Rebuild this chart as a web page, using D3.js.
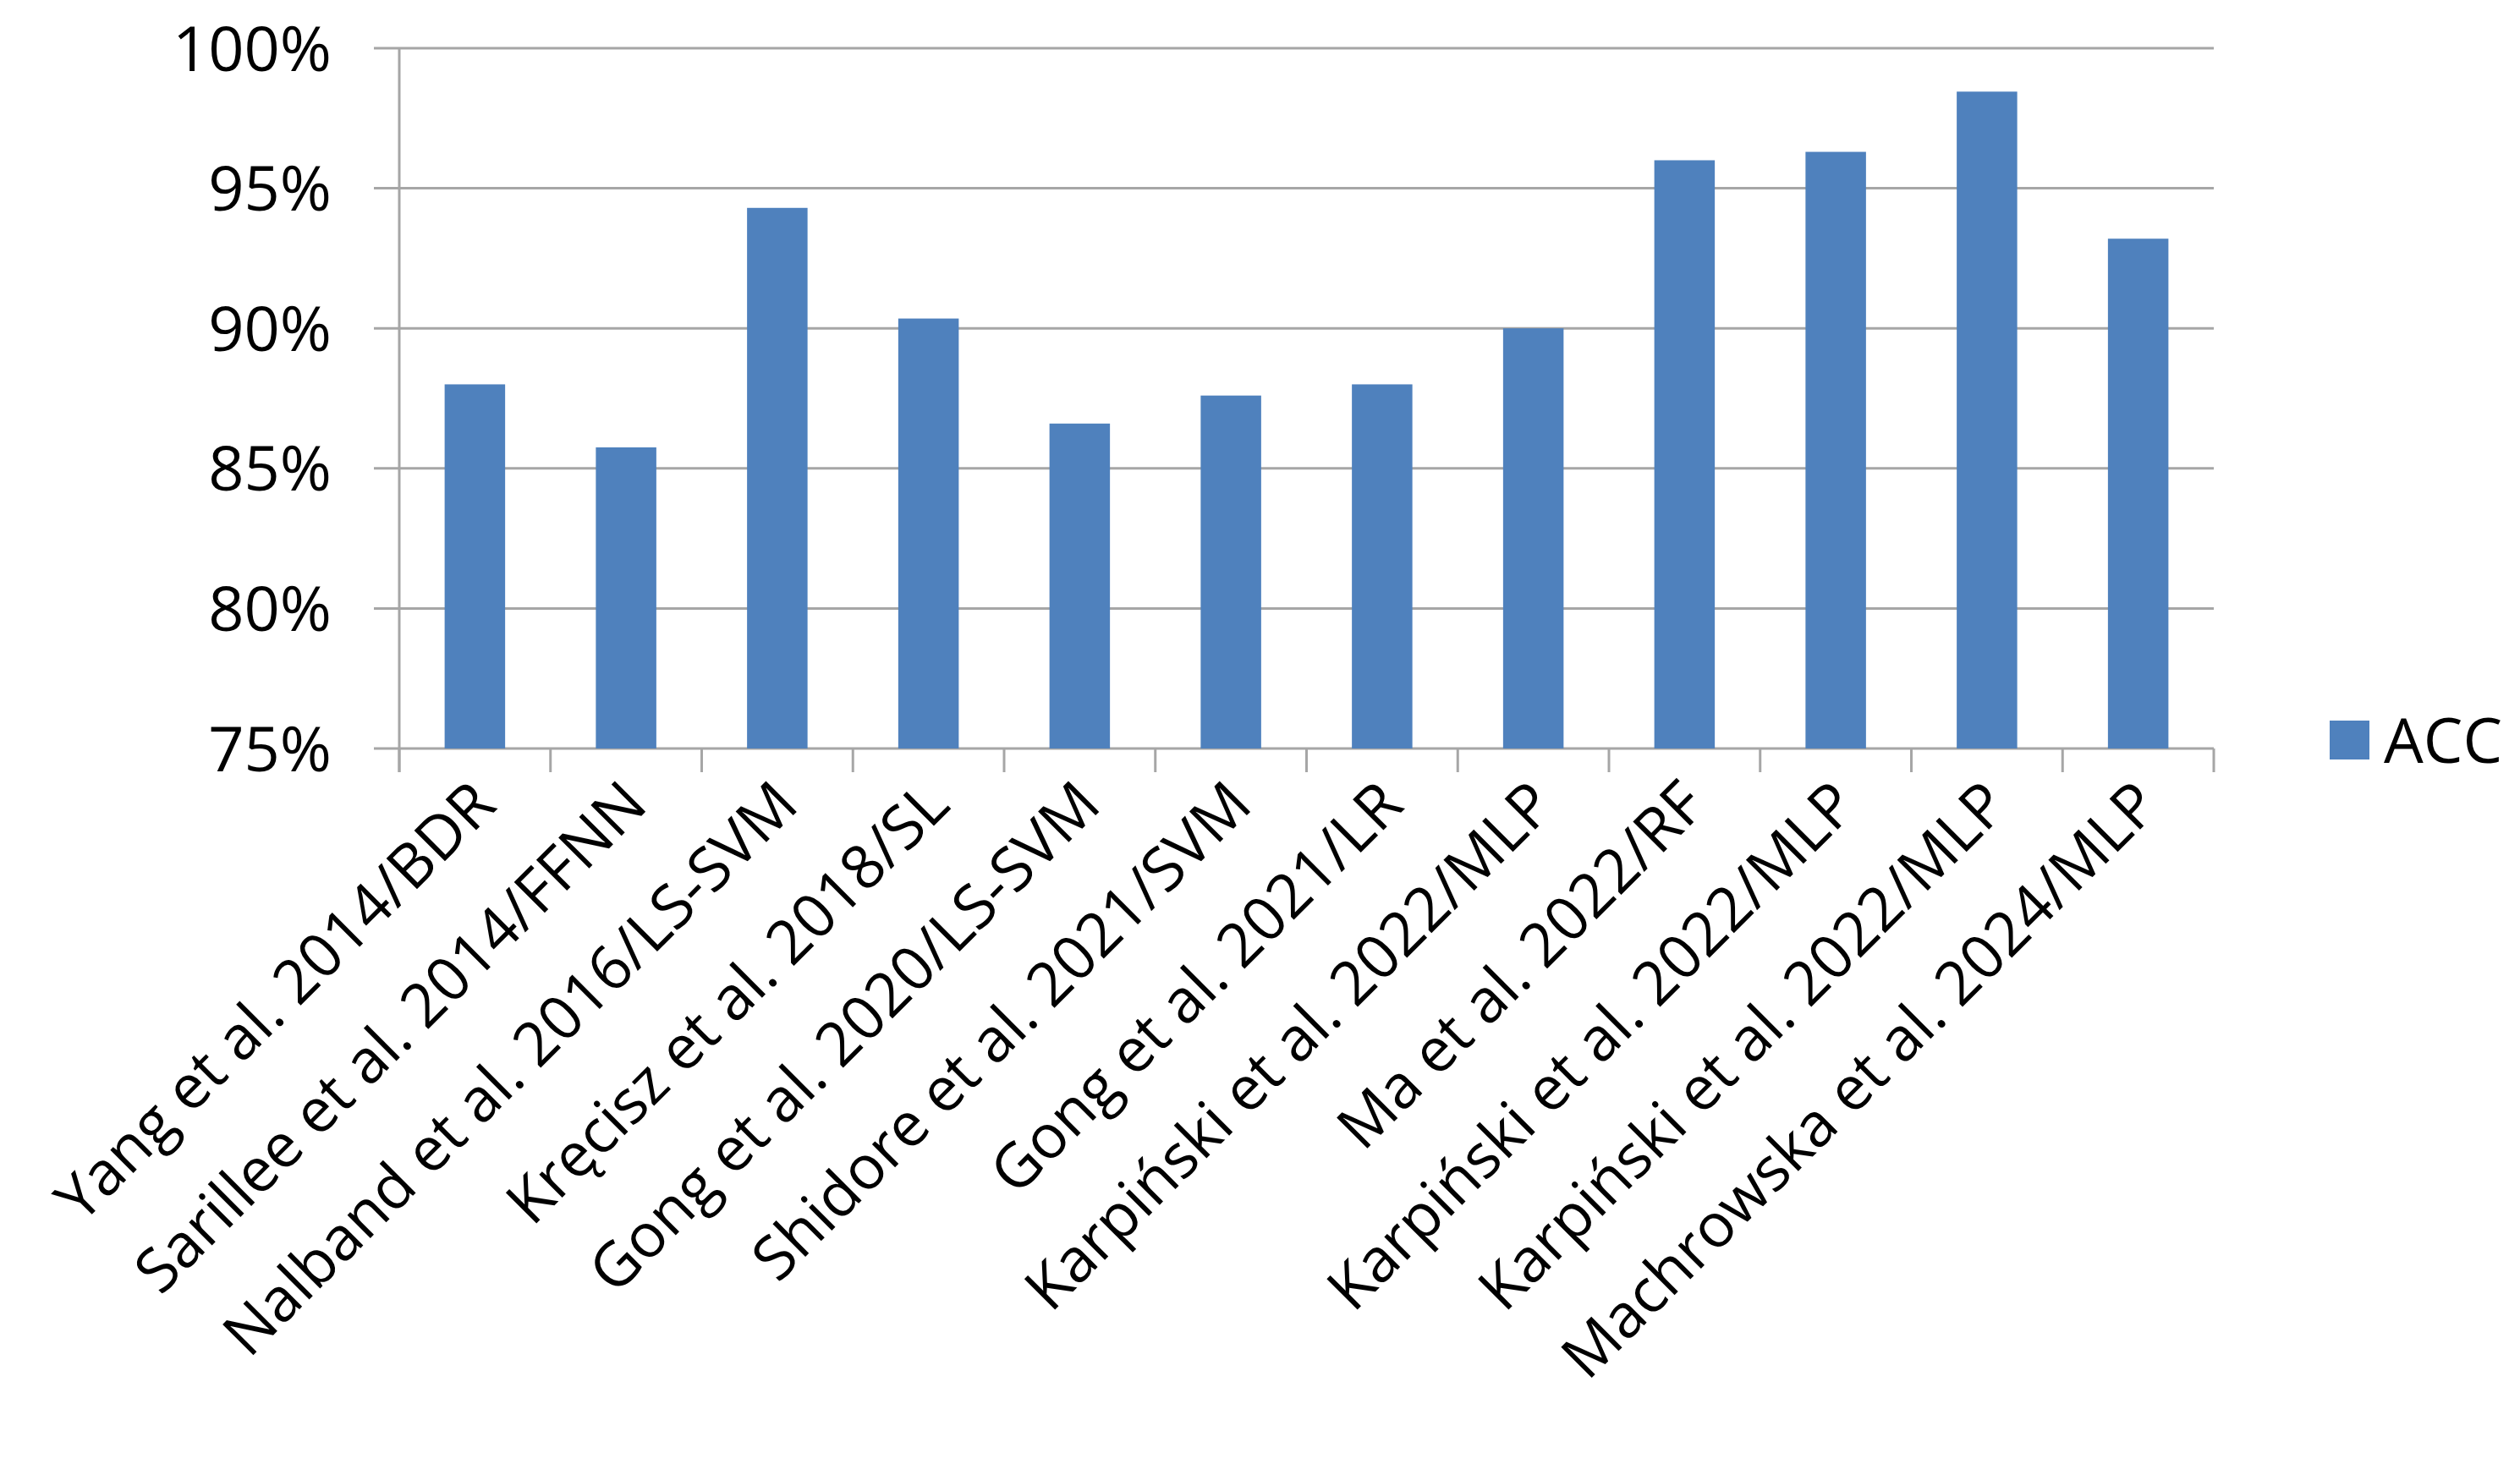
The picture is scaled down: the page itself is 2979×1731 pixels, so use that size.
<!DOCTYPE html>
<html>
<head>
<meta charset="utf-8">
<script src="https://cdn.jsdelivr.net/npm/d3@7"></script>
<style>
  body { margin: 0; background: #fff; }
  text { font-family: "Open Sans", "Liberation Sans", sans-serif; fill: #000; }
</style>
</head>
<body>
<svg id="chart" width="2979" height="1731"></svg>
<script>
const categories = [
  "Yang et al. 2014/BDR", "Sarillee et al. 2014/FFNN", "Nalband et al. 2016/LS-SVM",
  "Kręcisz et al. 2018/SL", "Gong et al. 2020/LS-SVM", "Shidore et al. 2021/SVM",
  "Gong et al. 2021/LR", "Karpiński et al. 2022/MLP", "Ma et al. 2022/RF",
  "Karpiński et al. 2022/MLP", "Karpiński et al. 2022/MLP", "Machrowska et al. 2024/MLP"
];
const acc = [0.880, 0.8575, 0.943, 0.9035, 0.866, 0.876, 0.880, 0.900, 0.960, 0.963, 0.9845, 0.932];
const yTicks = [0.75, 0.80, 0.85, 0.90, 0.95, 1.00];
const seriesName = "ACC";

const margin = {top: 57, left: 472, right: 362, bottom: 846};
const width = 2979, height = 1731;
const svg = d3.select("#chart");

const x = d3.scaleBand().domain(d3.range(categories.length))
  .range([margin.left, width - margin.right]).paddingInner(0.6).paddingOuter(0.3);
const y = d3.scaleLinear().domain([0.75, 1.0]).range([height - margin.bottom, margin.top]);
const step = (width - margin.right - margin.left) / categories.length;

// gridlines
svg.append("g").selectAll("line").data(yTicks).join("line")
  .attr("x1", margin.left - 30).attr("x2", width - margin.right)
  .attr("y1", d => y(d)).attr("y2", d => y(d))
  .attr("stroke", "#a6a6a6").attr("stroke-width", 3);

// y axis line
svg.append("line")
  .attr("x1", margin.left).attr("x2", margin.left)
  .attr("y1", y(1)).attr("y2", y(0.75) + 28)
  .attr("stroke", "#a6a6a6").attr("stroke-width", 3);

// category tick marks
svg.append("g").selectAll("line").data(d3.range(categories.length + 1)).join("line")
  .attr("x1", i => margin.left + i * step).attr("x2", i => margin.left + i * step)
  .attr("y1", y(0.75)).attr("y2", y(0.75) + 28)
  .attr("stroke", "#a6a6a6").attr("stroke-width", 3);

// y labels
svg.append("g").selectAll("text").data(yTicks).join("text")
  .attr("x", 392).attr("y", d => y(d)).attr("dy", "0.36em")
  .attr("text-anchor", "end").attr("font-size", 74)
  .text(d => d3.format(".0%")(d));

// bars
svg.append("g").selectAll("rect").data(acc).join("rect")
  .attr("x", (d, i) => x(i)).attr("width", x.bandwidth())
  .attr("y", d => y(d)).attr("height", d => y(0.75) - y(d))
  .attr("fill", "#4f81bd");

// x labels
svg.append("g").selectAll("text").data(categories).join("text")
  .attr("transform", (d, i) => `translate(${x(i) + x.bandwidth() / 2 + 28},${y(0.75) + 70}) rotate(-45)`)
  .attr("text-anchor", "end").attr("font-size", 72)
  .text(d => d);

// legend
svg.append("rect").attr("x", 2754).attr("y", 852).attr("width", 47).attr("height", 46).attr("fill", "#4f81bd");
svg.append("text").attr("x", 2818).attr("y", 875).attr("dy", "0.36em")
  .attr("font-size", 74).text(seriesName);
</script>
</body>
</html>
